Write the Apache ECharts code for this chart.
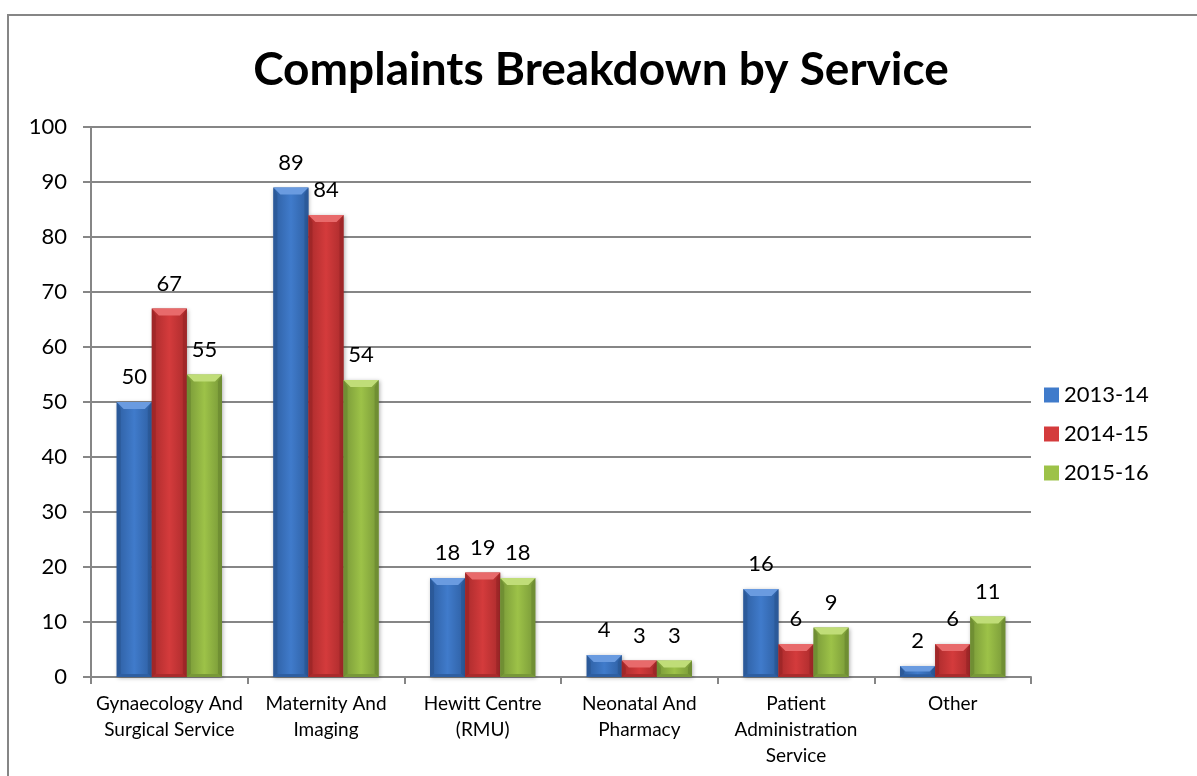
<!DOCTYPE html>
<html>
<head>
<meta charset="utf-8">
<script src="https://cdn.jsdelivr.net/npm/echarts@6/dist/echarts.min.js"></script>
<style>
  html, body { margin: 0; padding: 0; background: #fff; }
  #chart { width: 1197px; height: 776px; }
</style>
</head>
<body>
<div id="chart"></div>
<script>
// Service categories (x axis)
var categories = [
  'Gynaecology And\nSurgical Service',
  'Maternity And\nImaging',
  'Hewitt Centre\n(RMU)',
  'Neonatal And\nPharmacy',
  'Patient\nAdministration\nService',
  'Other'
];

// Complaints per year
var years = ['2013-14', '2014-15', '2015-16'];
var values2013 = [50, 89, 18, 4, 16, 2];
var values2014 = [67, 84, 19, 3, 6, 6];
var values2015 = [55, 54, 18, 3, 9, 11];

// Value axis ticks
var yMin = 0, yMax = 100, yStep = 10;

// Face colours per series: [centre, edge, top bevel, side bevel]
var palette = [
  ['#407bcb', '#2e5fa2', '#6a9be0', '#2b5896'],
  ['#d43b3c', '#aa2b2c', '#e86a6b', '#9c2627'],
  ['#9dc248', '#789838', '#c0dd78', '#6d8b32']
];

var FONT = 'Lato, "Open Sans", sans-serif';

function bevelBar(seriesIdx) {
  return function (params, api) {
    var cat = api.value(0);
    var val = api.value(1);
    var top = api.coord([cat, val]);
    var base = api.coord([cat, 0]);
    var bandW = api.size([1, 0])[0];
    var bw = bandW * 0.224;
    var x = top[0] - 1.5 * bw + seriesIdx * bw;
    var y = top[1];
    var yb = base[1];
    var h = yb - y;
    var b = Math.min(7, h / 2, bw / 2);
    var bb = Math.min(3, h / 4);
    var c = palette[seriesIdx];
    var grad = new echarts.graphic.LinearGradient(0, 0, 1, 0, [
      { offset: 0, color: c[1] },
      { offset: 0.5, color: c[0] },
      { offset: 1, color: c[1] }
    ]);
    return {
      type: 'group',
      children: [
        {
          type: 'rect',
          shape: { x: x, y: y, width: bw, height: h },
          style: { fill: grad, shadowBlur: 4, shadowColor: 'rgba(0,0,0,0.3)', shadowOffsetX: 1, shadowOffsetY: 1 }
        },
        {
          type: 'polygon',
          shape: { points: [[x, y], [x + 4, y + b], [x + 4, yb - bb], [x, yb]] },
          style: { fill: c[3], opacity: 0.8 }
        },
        {
          type: 'polygon',
          shape: { points: [[x + bw, y], [x + bw - 4, y + b], [x + bw - 4, yb - bb], [x + bw, yb]] },
          style: { fill: c[3], opacity: 0.8 }
        },
        {
          type: 'polygon',
          shape: { points: [[x, y], [x + bw, y], [x + bw - b, y + b], [x + b, y + b]] },
          style: { fill: c[2] }
        },
        {
          type: 'polygon',
          shape: { points: [[x, yb], [x + bw, yb], [x + bw - 4, yb - bb], [x + 4, yb - bb]] },
          style: { fill: c[1] }
        },
        {
          type: 'text',
          style: {
            text: String(val),
            x: x + bw / 2,
            y: y - 14,
            align: 'center',
            verticalAlign: 'bottom',
            fill: '#000',
            font: '22px ' + FONT
          }
        }
      ]
    };
  };
}

function seriesData(arr) {
  return arr.map(function (v, i) { return [i, v]; });
}

var allValues = [values2013, values2014, values2015];

var chart = echarts.init(document.getElementById('chart'), null, { renderer: 'canvas' });

chart.setOption({
  backgroundColor: '#ffffff',
  animation: false,
  title: {
    text: 'Complaints Breakdown by Service',
    left: 596,
    top: 42,
    textAlign: 'center',
    textStyle: { fontFamily: FONT, fontSize: 46, fontWeight: 'bold', color: '#000' }
  },
  graphic: [{
    type: 'rect',
    shape: { x: 8, y: 15, width: 1240, height: 820 },
    style: { fill: 'none', stroke: '#868686', lineWidth: 2 },
    silent: true,
    z: 0
  }],
  legend: {
    orient: 'vertical',
    left: 1044,
    top: 384,
    padding: 0,
    itemWidth: 15,
    itemHeight: 15,
    itemGap: 17,
    icon: 'rect',
    textStyle: { fontFamily: FONT, fontSize: 22, color: '#000' },
    data: years
  },
  grid: { left: 91, right: 166, top: 127, bottom: 99 },
  xAxis: {
    type: 'category',
    data: categories,
    axisLine: { lineStyle: { color: '#868686', width: 2 } },
    axisTick: { show: true, length: 7, alignWithLabel: false, lineStyle: { color: '#868686', width: 2 } },
    axisLabel: { fontFamily: FONT, fontSize: 19, color: '#000', lineHeight: 26, margin: 14, interval: 0 },
    splitLine: { show: false }
  },
  yAxis: {
    type: 'value',
    min: yMin, max: yMax, interval: yStep,
    axisLine: { show: true, lineStyle: { color: '#868686', width: 2 } },
    axisTick: { show: true, length: 8, lineStyle: { color: '#868686', width: 2 } },
    axisLabel: { fontFamily: FONT, fontSize: 22, color: '#000', margin: 24 },
    splitLine: { lineStyle: { color: '#868686', width: 2 } }
  },
  series: years.map(function (name, i) {
    return {
      name: name,
      type: 'custom',
      renderItem: bevelBar(i),
      itemStyle: { color: palette[i][0] },
      encode: { x: 0, y: 1 },
      data: seriesData(allValues[i]),
      z: 3
    };
  })
});
</script>
</body>
</html>
